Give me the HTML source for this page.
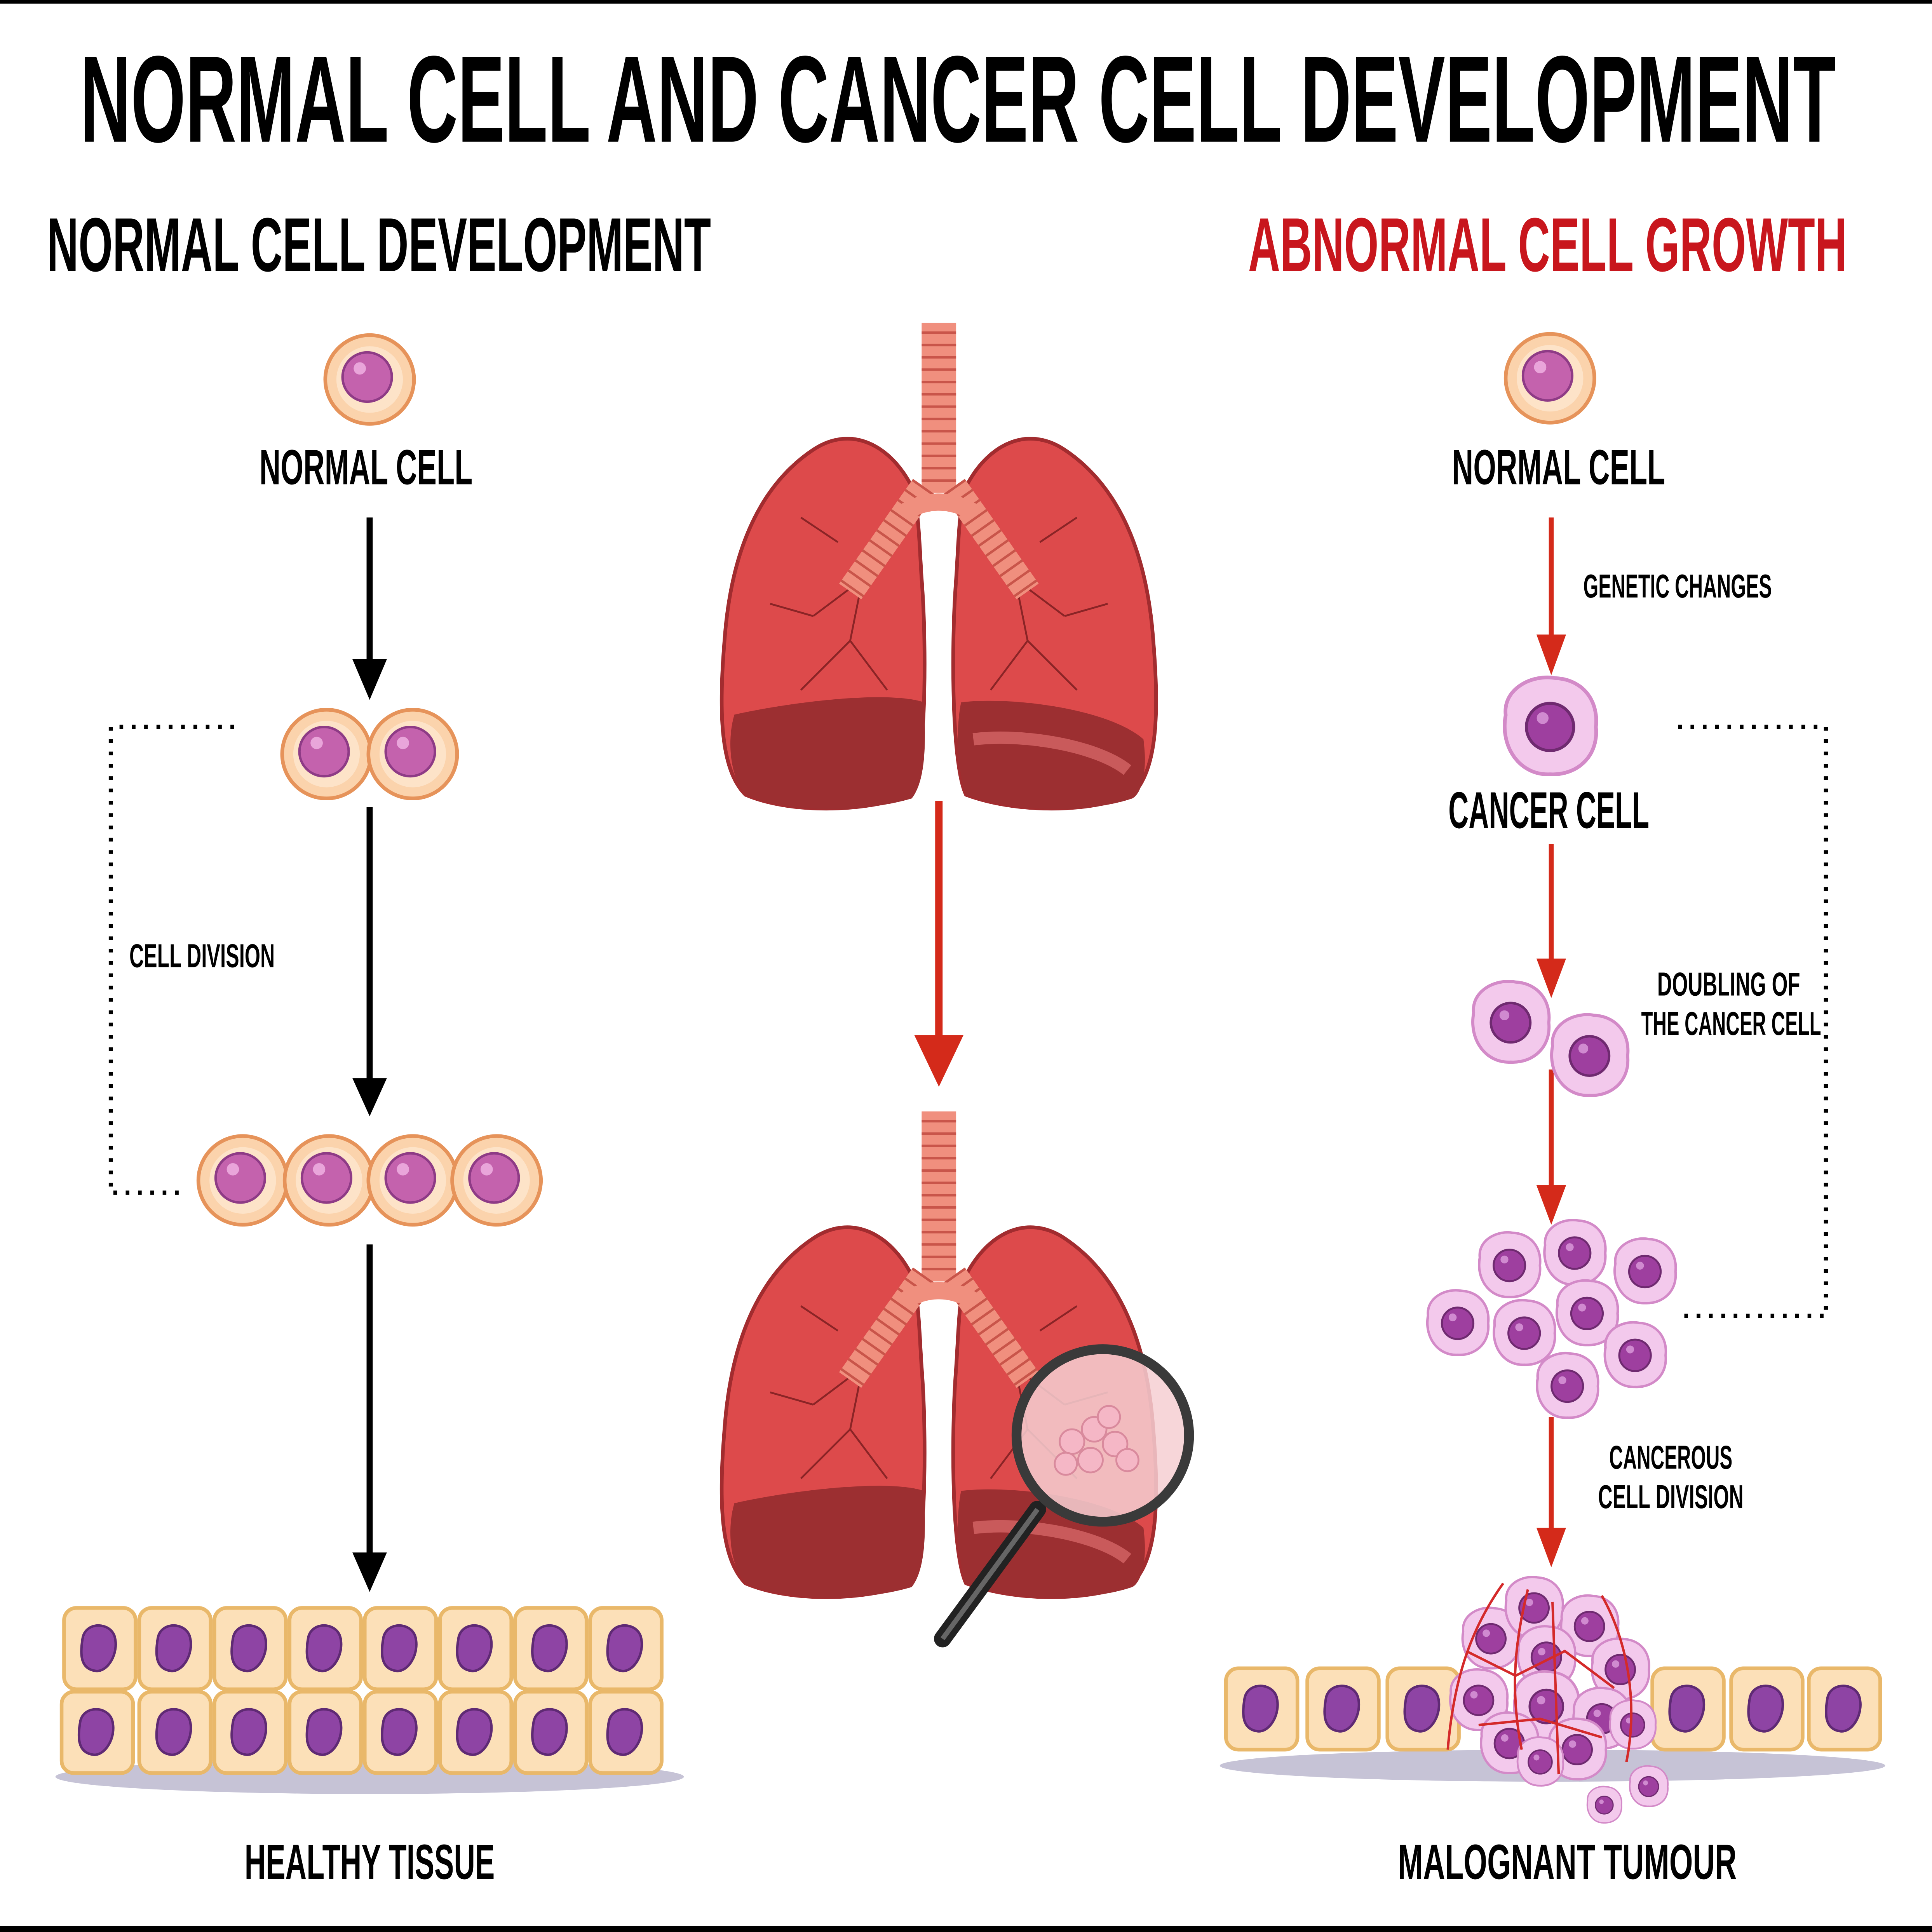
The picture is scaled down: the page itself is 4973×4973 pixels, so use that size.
<!DOCTYPE html>
<html><head><meta charset="utf-8">
<style>html,body{margin:0;padding:0;background:#fff}svg{display:block}
text{font-family:"Liberation Sans Narrow","Liberation Sans",sans-serif;font-weight:bold}</style>
</head><body>
<svg xmlns="http://www.w3.org/2000/svg" width="4973" height="4973" viewBox="0 0 1568 1568">
<defs>
<g id="nc"><circle r="36" fill="#fbd3ac" stroke="#e6935a" stroke-width="3"/><circle r="27" fill="#fde3c8"/><circle cx="-2" cy="-2" r="20" fill="#c462ad" stroke="#8e3b86" stroke-width="2"/><circle cx="-8" cy="-9" r="5" fill="#e9a5da"/></g>
<g id="cc"><path d="M-30,-8 C-32,-26 -12,-36 4,-33 C22,-32 33,-18 31,0 C33,20 18,33 0,32 C-20,33 -34,14 -30,-8Z" fill="#f3c9ec" stroke="#d38ac8" stroke-width="2.5"/><circle r="16" fill="#9e3f9f" stroke="#6f2a70" stroke-width="2"/><circle cx="-5" cy="-6" r="4" fill="#d08ad0"/></g>
<g id="tc"><rect x="-29" y="-33" width="58" height="66" rx="10" fill="#fce0b8" stroke="#e9b86a" stroke-width="3"/><path d="M-14,-8 C-12,-22 8,-22 12,-10 C16,4 6,20 -4,18 C-16,16 -16,4 -14,-8Z" fill="#8e44a4" stroke="#5f2a74" stroke-width="2"/></g>
<g id="lung">
<path d="M740,395 C722,360 690,345 660,365 C615,395 593,450 588,520 C583,580 585,625 605,645 C640,660 700,660 740,645 C752,620 752,520 748,470 C746,440 746,415 740,395Z" fill="#dd4a4b" stroke="#a22c2f" stroke-width="3"/>
<path d="M596,580 C640,570 720,560 750,570 C752,610 750,635 740,648 C700,660 640,660 605,645 C592,630 590,600 596,580Z" fill="#9c2f31"/>
<path d="M784,395 C802,360 834,345 864,365 C909,395 931,450 936,520 C941,580 939,625 919,645 C884,660 824,660 784,645 C772,620 772,520 776,470 C778,440 778,415 784,395Z" fill="#dd4a4b" stroke="#a22c2f" stroke-width="3"/>
<path d="M780,570 C820,565 900,575 928,600 C932,630 925,645 919,648 C884,660 824,660 784,645 C776,620 776,590 780,570Z" fill="#9c2f31"/>
<path d="M790,600 C830,595 890,605 915,625" stroke="#c95a5b" stroke-width="10" fill="none"/>
<path d="M730,430 L700,470 L660,500 M700,470 L690,520 L650,560 M660,500 L625,490 M690,520 L720,560 M794,430 L824,470 L864,500 M824,470 L834,520 L874,560 M864,500 L899,490 M834,520 L804,560 M680,440 L650,420 M844,440 L874,420" stroke="#8a2426" stroke-width="1.5" fill="none"/>
<rect x="748" y="262" width="28" height="138" fill="#f08f7e"/>
<g stroke="#c9554a" stroke-width="2">
<line x1="748" y1="270" x2="776" y2="270"/><line x1="748" y1="280" x2="776" y2="280"/><line x1="748" y1="290" x2="776" y2="290"/><line x1="748" y1="300" x2="776" y2="300"/><line x1="748" y1="310" x2="776" y2="310"/><line x1="748" y1="320" x2="776" y2="320"/><line x1="748" y1="330" x2="776" y2="330"/><line x1="748" y1="340" x2="776" y2="340"/><line x1="748" y1="350" x2="776" y2="350"/><line x1="748" y1="360" x2="776" y2="360"/><line x1="748" y1="370" x2="776" y2="370"/><line x1="748" y1="380" x2="776" y2="380"/><line x1="748" y1="390" x2="776" y2="390"/></g>
<path d="M750,395 L690,480 M774,395 L834,480" stroke="#f08f7e" stroke-width="22" fill="none"/>
<path d="M750,395 L690,480 M774,395 L834,480" stroke="#c9554a" stroke-width="22" stroke-dasharray="2 8" fill="none"/>
<path d="M735,415 Q762,400 789,415" stroke="#f08f7e" stroke-width="14" fill="none"/>
</g>
</defs>
<rect width="1568" height="1568" fill="#fff"/>
<rect x="0" y="0" width="1568" height="3" fill="#000"/>
<rect x="0" y="1563" width="1568" height="5" fill="#000"/>
<text x="65" y="115" font-size="100" textLength="1425" lengthAdjust="spacingAndGlyphs">NORMAL CELL AND CANCER CELL DEVELOPMENT</text>
<text x="38" y="220" font-size="62" textLength="539" lengthAdjust="spacingAndGlyphs">NORMAL CELL DEVELOPMENT</text>
<text x="1013" y="220" font-size="62" fill="#c8161d" textLength="486" lengthAdjust="spacingAndGlyphs">ABNORMAL CELL GROWTH</text>

<!-- left column -->
<use href="#nc" x="300" y="308"/>
<text x="297" y="393" font-size="40" text-anchor="middle" textLength="173" lengthAdjust="spacingAndGlyphs">NORMAL CELL</text>
<g fill="#000" stroke="#000" stroke-width="5">
<line x1="300" y1="420" x2="300" y2="540"/><line x1="300" y1="655" x2="300" y2="880"/><line x1="300" y1="1010" x2="300" y2="1265"/></g>
<path d="M286,535 L300,568 L314,535Z M286,875 L300,906 L314,875Z M286,1260 L300,1292 L314,1260Z"/>
<use href="#nc" x="265" y="612"/><use href="#nc" x="335" y="612"/>
<use href="#nc" x="197" y="958"/><use href="#nc" x="267" y="958"/><use href="#nc" x="335" y="958"/><use href="#nc" x="403" y="958"/>
<path d="M190,590 H90 V968 H150" fill="none" stroke="#000" stroke-width="3.5" stroke-dasharray="3 7"/>
<text x="105" y="785" font-size="27" textLength="118" lengthAdjust="spacingAndGlyphs">CELL DIVISION</text>
<ellipse cx="300" cy="1442" rx="255" ry="14" fill="#c6c3d6"/>
<g>
<use href="#tc" x="81" y="1338"/><use href="#tc" x="142" y="1338"/><use href="#tc" x="203" y="1338"/><use href="#tc" x="264" y="1338"/><use href="#tc" x="325" y="1338"/><use href="#tc" x="386" y="1338"/><use href="#tc" x="447" y="1338"/><use href="#tc" x="508" y="1338"/>
<use href="#tc" x="79" y="1406"/><use href="#tc" x="142" y="1406"/><use href="#tc" x="203" y="1406"/><use href="#tc" x="264" y="1406"/><use href="#tc" x="325" y="1406"/><use href="#tc" x="386" y="1406"/><use href="#tc" x="447" y="1406"/><use href="#tc" x="508" y="1406"/>
</g>
<text x="300" y="1525" font-size="40" text-anchor="middle" textLength="203" lengthAdjust="spacingAndGlyphs">HEALTHY TISSUE</text>

<!-- center -->
<use href="#lung"/>
<use href="#lung" y="640"/>
<line x1="762" y1="650" x2="762" y2="845" stroke="#d42a1a" stroke-width="6"/>
<path d="M742,840 L762,882 L782,840Z" fill="#d42a1a"/>
<line x1="842" y1="1225" x2="765" y2="1330" stroke="#222" stroke-width="14" stroke-linecap="round"/>
<line x1="842" y1="1225" x2="765" y2="1330" stroke="#666" stroke-width="4"/>
<circle cx="895" cy="1165" r="70" fill="#f6cfd2" fill-opacity="0.85" stroke="#3a3a3a" stroke-width="8"/>
<g fill="#f5b7c6" stroke="#d98a9d" stroke-width="1.5">
<circle cx="870" cy="1170" r="10"/><circle cx="888" cy="1160" r="10"/><circle cx="905" cy="1172" r="10"/><circle cx="885" cy="1185" r="10"/><circle cx="900" cy="1150" r="9"/><circle cx="865" cy="1188" r="9"/><circle cx="915" cy="1185" r="9"/></g>

<!-- right column -->
<use href="#nc" x="1258" y="307"/>
<text x="1265" y="393" font-size="40" text-anchor="middle" textLength="173" lengthAdjust="spacingAndGlyphs">NORMAL CELL</text>
<g stroke="#d42a1a" stroke-width="4"><line x1="1259" y1="420" x2="1259" y2="520"/><line x1="1259" y1="685" x2="1259" y2="782"/><line x1="1259" y1="868" x2="1259" y2="965"/><line x1="1259" y1="1150" x2="1259" y2="1245"/></g>
<path d="M1247,515 L1259,548 L1271,515Z M1247,778 L1259,810 L1271,778Z M1247,962 L1259,994 L1271,962Z M1247,1240 L1259,1272 L1271,1240Z" fill="#d42a1a"/>
<text x="1285" y="485" font-size="27" textLength="153" lengthAdjust="spacingAndGlyphs">GENETIC CHANGES</text>
<g transform="translate(1258,590) scale(1.2)"><use href="#cc"/></g>
<text x="1257" y="672" font-size="42" text-anchor="middle" textLength="163" lengthAdjust="spacingAndGlyphs">CANCER CELL</text>
<use href="#cc" x="1226" y="830"/><use href="#cc" x="1290" y="857"/>
<text x="1403" y="808" font-size="27" text-anchor="middle" textLength="116" lengthAdjust="spacingAndGlyphs">DOUBLING OF</text>
<text x="1405" y="840" font-size="27" text-anchor="middle" textLength="146" lengthAdjust="spacingAndGlyphs">THE CANCER CELL</text>
<path d="M1362,590 H1482 V1068 H1362" fill="none" stroke="#000" stroke-width="3.5" stroke-dasharray="3 7"/>
<g transform="translate(0,0)">
<g transform="translate(1225,1027) scale(0.8)"><use href="#cc"/></g>
<g transform="translate(1278,1017) scale(0.8)"><use href="#cc"/></g>
<g transform="translate(1335,1032) scale(0.8)"><use href="#cc"/></g>
<g transform="translate(1183,1074) scale(0.8)"><use href="#cc"/></g>
<g transform="translate(1237,1082) scale(0.8)"><use href="#cc"/></g>
<g transform="translate(1288,1066) scale(0.8)"><use href="#cc"/></g>
<g transform="translate(1327,1100) scale(0.8)"><use href="#cc"/></g>
<g transform="translate(1272,1125) scale(0.8)"><use href="#cc"/></g>
</g>
<text x="1356" y="1192" font-size="27" text-anchor="middle" textLength="100" lengthAdjust="spacingAndGlyphs">CANCEROUS</text>
<text x="1356" y="1224" font-size="27" text-anchor="middle" textLength="118" lengthAdjust="spacingAndGlyphs">CELL DIVISION</text>
<ellipse cx="1260" cy="1433" rx="270" ry="13" fill="#c6c3d6"/>
<use href="#tc" x="1024" y="1387"/><use href="#tc" x="1090" y="1387"/><use href="#tc" x="1155" y="1387"/>
<use href="#tc" x="1370" y="1387"/><use href="#tc" x="1434" y="1387"/><use href="#tc" x="1497" y="1387"/>
<g>
<g transform="translate(1210,1330) scale(0.75)"><use href="#cc"/></g>
<g transform="translate(1245,1305) scale(0.75)"><use href="#cc"/></g>
<g transform="translate(1290,1320) scale(0.75)"><use href="#cc"/></g>
<g transform="translate(1255,1345) scale(0.75)"><use href="#cc"/></g>
<g transform="translate(1315,1355) scale(0.75)"><use href="#cc"/></g>
<g transform="translate(1200,1380) scale(0.75)"><use href="#cc"/></g>
<g transform="translate(1255,1385) scale(0.85)"><use href="#cc"/></g>
<g transform="translate(1300,1395) scale(0.75)"><use href="#cc"/></g>
<g transform="translate(1225,1415) scale(0.75)"><use href="#cc"/></g>
<g transform="translate(1280,1420) scale(0.75)"><use href="#cc"/></g>
<g transform="translate(1325,1400) scale(0.6)"><use href="#cc"/></g>
<g transform="translate(1250,1430) scale(0.6)"><use href="#cc"/></g>
<g transform="translate(1338,1450) scale(0.5)"><use href="#cc"/></g>
<g transform="translate(1302,1465) scale(0.45)"><use href="#cc"/></g>
</g>
<path d="M1220,1285 C1195,1320 1180,1360 1175,1420 M1240,1290 C1230,1330 1225,1370 1235,1420 M1300,1295 C1320,1330 1330,1380 1320,1430 M1190,1340 L1230,1360 L1270,1340 L1310,1370 M1200,1400 L1250,1395 L1300,1410 M1260,1300 L1265,1440" fill="none" stroke="#d42a2a" stroke-width="2"/>
<text x="1272" y="1525" font-size="40" text-anchor="middle" textLength="275" lengthAdjust="spacingAndGlyphs">MALOGNANT TUMOUR</text>
</svg>
</body></html>
